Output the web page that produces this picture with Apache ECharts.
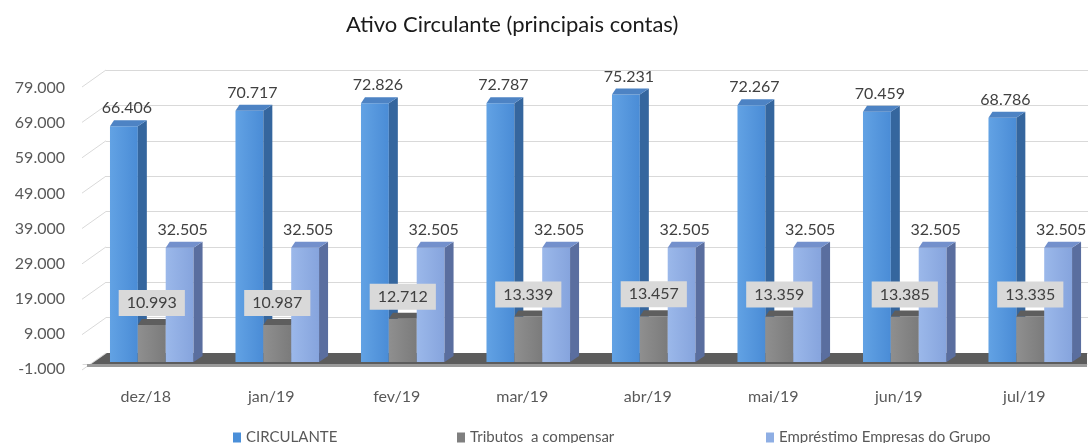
<!DOCTYPE html>
<html>
<head>
<meta charset="utf-8">
<script src="https://cdn.jsdelivr.net/npm/echarts@6/dist/echarts.min.js"></script>
<style>
  html, body { margin: 0; padding: 0; background: #fff; }
  #chart { width: 1088px; height: 443px; }
</style>
</head>
<body>
<div id="chart"></div>
<script>
// dados
const months = ['dez/18', 'jan/19', 'fev/19', 'mar/19', 'abr/19', 'mai/19', 'jun/19', 'jul/19']
const circulante = [66406, 70717, 72826, 72787, 75231, 72267, 70459, 68786]
const tributos = [10993, 10987, 12712, 13339, 13457, 13359, 13385, 13335]
const emprestimo = [32505, 32505, 32505, 32505, 32505, 32505, 32505, 32505]
const seriesNames = ['CIRCULANTE', 'Tributos  a compensar', 'Empréstimo Empresas do Grupo']

const yMin = -1000
const yMax = 79000
const yStep = 10000

const FONT = 'Lato, "Open Sans", sans-serif'

// 1.234 style
function fmt(v) {
  const neg = v < 0
  v = Math.abs(v)
  const s = Math.floor(v / 1000) + '.' + String(v % 1000).padStart(3, '0')
  return neg ? '-' + s : s
}

// cores: frente, lado, topo
const palette = [
  { front: ['#62a2e4', '#4a8cd6'], side: '#35669e', top: '#4d83c4', legend: '#4a8fd9' },
  { front: ['#8f8f8f', '#7b7b7b'], side: '#555555', top: '#5e5e5e', legend: '#7f7f7f' },
  { front: ['#9bb8ea', '#86a4dd'], side: '#5a6e9f', top: '#7390cc', legend: '#8eaee4' }
]

// posição da face frontal de cada barra dentro da categoria
function barBox(api, k) {
  const i = api.value(0)
  const v = api.value(1)
  const c = api.coord([i, v])
  const bw = api.size([1, 0])[0]
  const w = bw * 0.222
  const x0 = c[0] - bw / 2 + bw * (0.215 + k * 0.222)
  return { v: v, x0: x0, w: w, yTop: c[1], yBot: api.coord([i, yMin])[1] - 6 }
}

function bar3d(k) {
  return function (params, api) {
    const b = barBox(api, k)
    const x0 = b.x0, w = b.w, yTop = b.yTop, yBot = b.yBot
    const dxL = 4, dxR = 9, dy = 6
    const col = palette[k]
    const children = [
      {
        type: 'rect',
        shape: { x: x0, y: yTop, width: w, height: yBot - yTop },
        style: {
          fill: new echarts.graphic.LinearGradient(0, 0, 1, 0, [
            { offset: 0, color: col.front[0] },
            { offset: 1, color: col.front[1] }
          ])
        }
      },
      {
        type: 'polygon',
        shape: { points: [[x0 + w, yTop], [x0 + w + dxR, yTop - dy], [x0 + w + dxR, yBot - dy], [x0 + w, yBot]] },
        style: { fill: col.side }
      },
      {
        type: 'polygon',
        shape: { points: [[x0, yTop], [x0 + dxL, yTop - dy], [x0 + w + dxR, yTop - dy], [x0 + w, yTop]] },
        style: { fill: col.top }
      }
    ]
    if (k !== 1) {
      children.push({
        type: 'text',
        style: {
          text: fmt(b.v),
          x: x0 + w / 2 + 3,
          y: yTop - 18,
          align: 'center',
          verticalAlign: 'middle',
          fontFamily: FONT,
          fontSize: 16,
          fill: '#404040'
        }
      })
    }
    return { type: 'group', children: children }
  }
}

// rótulos cinza dos tributos (por cima das outras barras)
function boxLabel(params, api) {
  const b = barBox(api, 1)
  return {
    type: 'text',
    style: {
      text: fmt(b.v),
      x: b.x0 + b.w / 2,
      y: b.yTop - 22,
      align: 'center',
      verticalAlign: 'middle',
      fontFamily: FONT,
      fontSize: 16,
      fill: '#404040',
      backgroundColor: '#d9d9d9',
      padding: [5, 8, 5, 8]
    }
  }
}

// parede do fundo: segmentos inclinados das linhas de grade
function wallRender(params, api) {
  const cs = params.coordSys
  const children = []
  for (let v = yMin; v <= yMax; v += yStep) {
    const y = api.coord([0, v])[1]
    children.push({
      type: 'line',
      shape: { x1: cs.x - 24, y1: y + 17, x2: cs.x, y2: y },
      style: { stroke: '#d9d9d9', lineWidth: 1 }
    })
  }
  return { type: 'group', children: children }
}

// piso escuro
function floorRender(params, api) {
  const cs = params.coordSys
  const y0 = api.coord([0, yMin])[1]
  const xR = cs.x + cs.width
  return {
    type: 'group',
    children: [
      {
        type: 'polygon',
        shape: { points: [[cs.x + 4, y0 - 1], [cs.x + 24, y0 - 15], [xR, y0 - 15], [xR, y0 - 1]] },
        style: { fill: '#5c5c5c' }
      },
      {
        type: 'rect',
        shape: { x: cs.x + 4, y: y0 - 4, width: xR - cs.x - 4, height: 3 },
        style: { fill: '#9a9a9a' }
      }
    ]
  }
}

const chart = echarts.init(document.getElementById('chart'))

const valueAxis = {
  type: 'value',
  min: yMin,
  max: yMax,
  interval: yStep
}

chart.setOption({
  animation: false,
  title: {
    text: 'Ativo Circulante (principais contas)',
    left: 341,
    top: 9,
    textStyle: { fontFamily: FONT, fontSize: 22, fontWeight: 'normal', color: '#1a1a1a' }
  },
  legend: seriesNames.map((name, k) => ({
    data: [name],
    left: [228, 452, 761][k],
    top: 425,
    icon: 'rect',
    itemWidth: 8,
    itemHeight: 10,
    itemGap: 8,
    textStyle: { fontFamily: FONT, fontSize: 15, color: '#595959' }
  })),
  grid: [
    { left: 83, right: 1, top: 81, bottom: 75 },   // barras (plano da frente)
    { left: 83, right: 1, top: 88, bottom: 74 },   // rótulos do eixo y
    { left: 106, right: 0, top: 70, bottom: 90 }   // parede do fundo
  ],
  xAxis: [
    {
      gridIndex: 0,
      type: 'category',
      data: months,
      offset: 4,
      axisLine: { lineStyle: { color: '#d9d9d9' } },
      axisTick: { lineStyle: { color: '#d9d9d9' }, length: 5 },
      axisLabel: { fontFamily: FONT, fontSize: 16, color: '#595959', margin: 17 }
    },
    { gridIndex: 1, type: 'category', data: months, show: false },
    { gridIndex: 2, type: 'category', data: months, show: false }
  ],
  yAxis: [
    Object.assign({ gridIndex: 0, show: false }, valueAxis),
    Object.assign({
      gridIndex: 1,
      axisLine: { show: false },
      axisTick: { show: false },
      splitLine: { show: false },
      axisLabel: { fontFamily: FONT, fontSize: 16, color: '#595959', margin: 18, formatter: fmt }
    }, valueAxis),
    Object.assign({
      gridIndex: 2,
      axisLine: { show: false },
      axisTick: { show: false },
      axisLabel: { show: false },
      splitLine: { lineStyle: { color: '#d9d9d9' } }
    }, valueAxis)
  ],
  series: [
    {
      type: 'custom',
      xAxisIndex: 2,
      yAxisIndex: 2,
      z: 0,
      silent: true,
      renderItem: wallRender,
      data: [[0, 0]]
    },
    {
      type: 'custom',
      xAxisIndex: 0,
      yAxisIndex: 0,
      z: 1,
      silent: true,
      renderItem: floorRender,
      data: [[0, 0]]
    }
  ].concat([circulante, tributos, emprestimo].map((vals, k) => ({
    name: seriesNames[k],
    type: 'custom',
    xAxisIndex: 0,
    yAxisIndex: 0,
    z: 2 + k,
    itemStyle: { color: palette[k].legend },
    renderItem: bar3d(k),
    encode: { x: 0, y: 1 },
    data: vals.map((v, i) => [i, v])
  }))).concat([{
    type: 'custom',
    xAxisIndex: 0,
    yAxisIndex: 0,
    z: 10,
    silent: true,
    renderItem: boxLabel,
    encode: { x: 0, y: 1 },
    data: tributos.map((v, i) => [i, v])
  }])
})
</script>
</body>
</html>
